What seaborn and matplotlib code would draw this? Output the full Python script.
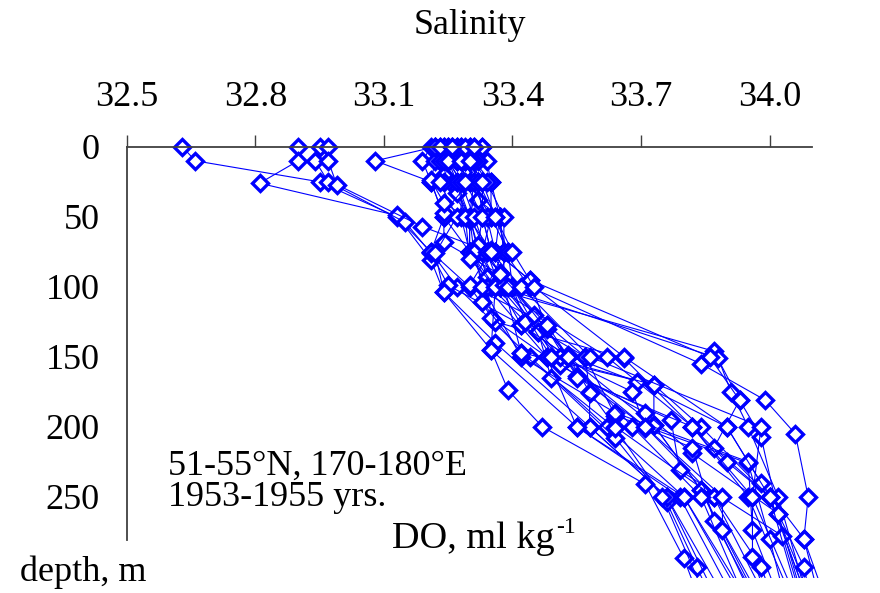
import matplotlib
matplotlib.use("Agg")
import matplotlib.pyplot as plt
import seaborn as sns
import pandas as pd

# Station profiles: bottle depth (m) and salinity
depth_01 = [0, 10, 25, 50, 75, 100, 150, 200, 250, 400]
sal_01 = [32.63, 32.66, 32.95, 33.13, 33.21, 33.27, 33.44, 33.62, 33.80, 34.08]
depth_02 = [0, 10, 26, 49, 81, 104, 140, 200, 250, 400]
sal_02 = [32.90, 32.90, 32.81, 33.13, 33.21, 33.24, 33.36, 33.58, 33.76, 34.04]
depth_03 = [0, 10, 25, 54, 76, 99, 127, 150, 199, 245, 400]
sal_03 = [32.95, 32.94, 32.97, 33.15, 33.21, 33.25, 33.42, 33.53, 33.73, 33.84, 34.10]
depth_04 = [0, 10, 27, 57, 72, 100, 132, 165, 208, 254, 300, 400]
sal_04 = [32.97, 32.97, 32.99, 33.19, 33.32, 33.37, 33.46, 33.49, 33.64, 33.76, 33.83, 33.98]
depth_05 = [0, 10, 25, 50, 75, 100, 150, 200, 250, 400]
sal_05 = [33.22, 33.08, 33.21, 33.24, 33.30, 33.35, 33.51, 33.71, 33.87, 34.12]
depth_06 = [0, 10, 25, 50, 75, 100, 125, 151, 200, 250, 400]
sal_06 = [33.21, 33.19, 33.21, 33.24, 33.21, 33.30, 33.36, 33.66, 33.82, 33.95, 34.16]
depth_07 = [0, 10, 20, 30, 50, 75, 100, 146, 181, 215, 250, 400]
sal_07 = [33.24, 33.23, 33.24, 33.27, 33.30, 33.30, 33.34, 33.87, 33.93, 33.87, 34.00, 34.18]
depth_08 = [0, 10, 25, 50, 75, 100, 151, 175, 200, 250, 400]
sal_08 = [33.27, 33.25, 33.24, 33.30, 33.32, 33.37, 33.88, 33.91, 33.95, 34.02, 34.16]
depth_09 = [0, 10, 25, 50, 75, 100, 155, 181, 205, 250, 280, 400]
sal_09 = [33.33, 33.31, 33.35, 33.37, 33.38, 33.44, 33.84, 33.99, 34.06, 34.09, 34.08, 34.22]
depth_10 = [0, 10, 33, 50, 72, 93, 122, 150, 200, 250, 400]
sal_10 = [33.28, 33.29, 33.27, 33.30, 33.32, 33.34, 33.35, 33.48, 33.55, 33.79, 34.05]
depth_11 = [0, 10, 25, 47, 68, 91, 111, 147, 170, 199, 245, 400]
sal_11 = [33.25, 33.27, 33.30, 33.24, 33.24, 33.37, 33.33, 33.42, 33.73, 33.73, 33.84, 34.08]
depth_12 = [0, 10, 24, 40, 52, 74, 99, 127, 150, 192, 226, 280, 400]
sal_12 = [33.23, 33.22, 33.21, 33.24, 33.30, 33.35, 33.30, 33.48, 33.57, 33.64, 33.95, 34.00, 34.10]
depth_13 = [0, 10, 25, 50, 75, 100, 132, 156, 190, 219, 262, 300, 400]
sal_13 = [33.31, 33.34, 33.35, 33.35, 33.39, 33.40, 33.46, 33.51, 33.71, 33.82, 34.02, 34.08, 34.15]
depth_14 = [0, 10, 38, 50, 75, 95, 130, 164, 195, 231, 278, 400]
sal_14 = [33.26, 33.31, 33.32, 33.37, 33.36, 33.44, 33.48, 33.55, 33.77, 33.79, 34.03, 34.15]
depth_15 = [10, 25, 50, 75, 100, 145, 174, 200, 241, 294, 400]
sal_15 = [33.29, 33.32, 33.30, 33.30, 33.36, 33.35, 33.39, 33.47, 33.71, 33.80, 33.93]
depth_16 = [0, 10, 25, 50, 75, 100, 127, 150, 175, 200, 250, 300, 400]
sal_16 = [33.22, 33.25, 33.27, 33.30, 33.34, 33.37, 33.42, 33.53, 33.58, 33.64, 33.87, 33.98, 34.10]
depth_17 = [10, 25, 50, 75, 100, 125, 150, 176, 200, 250, 400]
sal_17 = [33.31, 33.30, 33.35, 33.33, 33.40, 33.43, 33.57, 33.58, 33.58, 33.76, 34.00]
depth_18 = [0, 10, 25, 50, 70, 90, 120, 149, 168, 200, 240, 280, 400]
sal_18 = [33.30, 33.28, 33.32, 33.33, 33.32, 33.37, 33.45, 33.53, 33.69, 33.90, 33.98, 34.08, 34.18]
depth_19 = [0, 10, 25, 50, 75, 100, 150, 170, 200, 250, 400]
sal_19 = [33.25, 33.27, 33.30, 33.37, 33.38, 33.34, 33.48, 33.73, 33.84, 34.00, 34.18]
depth_20 = [0, 10, 25, 50, 75, 100, 150, 175, 201, 215, 267, 400]
sal_20 = [33.27, 33.25, 33.28, 33.28, 33.30, 33.38, 33.51, 33.68, 33.71, 33.82, 33.87, 34.10]
depth_21 = [0, 10, 25, 50, 76, 104, 145, 200, 250, 400]
sal_21 = [33.24, 33.23, 33.23, 33.27, 33.22, 33.24, 33.35, 33.55, 33.80, 34.10]
depth_22 = [0, 10, 25, 50, 75, 100, 150, 190, 225, 274, 400]
sal_22 = [33.33, 33.32, 33.31, 33.30, 33.31, 33.33, 33.42, 33.64, 33.95, 33.96, 34.12]
depth_23 = [0, 10, 25, 50, 80, 100, 150, 200, 225, 250, 400]
sal_23 = [33.22, 33.24, 33.27, 33.29, 33.30, 33.36, 33.62, 33.82, 33.90, 34.00, 34.20]
depth_24 = [0, 10, 25, 50, 75, 100, 150, 200, 250, 400]
sal_24 = [33.28, 33.30, 33.33, 33.33, 33.35, 33.40, 33.53, 33.68, 33.84, 34.05]
depth_25 = [0, 10, 25, 50, 75, 99, 147, 201, 250, 400]
sal_25 = [33.30, 33.31, 33.34, 33.38, 33.38, 33.38, 33.42, 33.64, 33.75, 33.96]
depth_26 = [0, 10, 25, 50, 75, 100, 150, 200, 250, 274, 400]
sal_26 = [33.23, 33.25, 33.28, 33.31, 33.34, 33.39, 33.49, 33.71, 33.89, 33.89, 34.12]
depth_27 = [0, 10, 25, 50, 75, 95, 150, 181, 207, 262, 400]
sal_27 = [33.26, 33.29, 33.31, 33.34, 33.36, 33.44, 33.86, 33.93, 33.98, 34.02, 34.15]
depth_28 = [0, 10, 25, 50, 75, 91, 127, 150, 165, 200, 250, 400]
sal_28 = [33.29, 33.30, 33.32, 33.36, 33.39, 33.37, 33.48, 33.53, 33.55, 33.82, 33.96, 34.17]
depth_29 = [0, 10, 25, 50, 75, 100, 150, 200, 250, 293, 400]
sal_29 = [33.26, 33.28, 33.29, 33.33, 33.35, 33.42, 33.58, 33.98, 33.96, 33.96, 34.08]
depth_30 = [0, 10, 25, 50, 75, 100, 150, 200, 250, 400]
sal_30 = [33.31, 33.30, 33.33, 33.36, 33.40, 33.45, 33.66, 33.90, 34.00, 34.14]

x_ticks = [32.5, 32.8, 33.1, 33.4, 33.7, 34.0]
x_labels = ["32.5", "32.8", "33.1", "33.4", "33.7", "34.0"]
y_ticks = [0, 50, 100, 150, 200, 250]

profiles = [
    (depth_01, sal_01), (depth_02, sal_02), (depth_03, sal_03), (depth_04, sal_04),
    (depth_05, sal_05), (depth_06, sal_06), (depth_07, sal_07), (depth_08, sal_08),
    (depth_09, sal_09), (depth_10, sal_10), (depth_11, sal_11), (depth_12, sal_12),
    (depth_13, sal_13), (depth_14, sal_14), (depth_15, sal_15), (depth_16, sal_16),
    (depth_17, sal_17), (depth_18, sal_18), (depth_19, sal_19), (depth_20, sal_20),
    (depth_21, sal_21), (depth_22, sal_22), (depth_23, sal_23), (depth_24, sal_24),
    (depth_25, sal_25), (depth_26, sal_26), (depth_27, sal_27), (depth_28, sal_28),
    (depth_29, sal_29), (depth_30, sal_30),
]
df = pd.concat(
    [pd.DataFrame({"station": i, "depth": d, "salinity": s})
     for i, (d, s) in enumerate(profiles, 1)],
    ignore_index=True,
)

sns.set_style("white")
plt.rcParams["font.family"] = ["Liberation Serif", "DejaVu Serif"]
plt.rcParams["text.color"] = "black"

fig = plt.figure(figsize=(8.8, 5.93), dpi=100)
ax = fig.add_axes([0.144, 0.0253, 0.789, 0.746])

sns.lineplot(
    data=df, x="salinity", y="depth", units="station", estimator=None,
    sort=False, orient="y", color="blue", linewidth=0.8,
    marker="D", markersize=8, markerfacecolor="white",
    markeredgecolor="blue", markeredgewidth=2.4, legend=False, ax=ax,
)

ax.set_xlim(32.5, 34.12)
ax.set_ylim(308, -8)
ax.set_xlabel("")
ax.set_ylabel("")

for side in ("right", "bottom"):
    ax.spines[side].set_visible(False)
ax.spines["top"].set_position(("data", 0))
ax.spines["top"].set_bounds(32.5, 34.1)
ax.spines["left"].set_bounds(0, 281)
for side in ("top", "left"):
    ax.spines[side].set_color("#404040")
    ax.spines[side].set_linewidth(1.3)

ax.xaxis.tick_top()
ax.set_xticks(x_ticks)
ax.set_xticklabels(x_labels)
ax.set_yticks(y_ticks)
ax.tick_params(axis="both", direction="out", length=8.6, width=1.0,
               color="#404040", labelsize=26, labelcolor="black")
ax.tick_params(axis="x", pad=15)
ax.tick_params(axis="y", pad=11)

fig.text(470 / 880, 1 - 25 / 593, "Salinity", ha="center", va="center", fontsize=26)
fig.text(168 / 880, 1 - 466 / 593, "51-55°N, 170-180°E", ha="left", va="center", fontsize=26)
fig.text(168 / 880, 1 - 497 / 593, "1953-1955 yrs.", ha="left", va="center", fontsize=26)
fig.text(392 / 880, 1 - 548 / 593, "DO, ml kg", ha="left", va="baseline", fontsize=27.5)
fig.text(556 / 880, 1 - 533 / 593, "-1", ha="left", va="baseline", fontsize=17)
fig.text(20 / 880, 1 - 572 / 593, "depth, m", ha="left", va="center", fontsize=26)

fig.savefig("out.png", dpi=100)
